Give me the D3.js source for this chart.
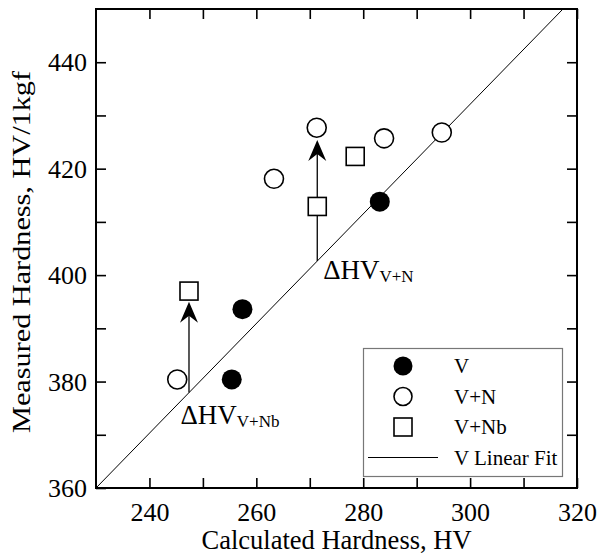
<!DOCTYPE html>
<html><head><meta charset="utf-8">
<script src="https://cdn.jsdelivr.net/npm/d3@7/dist/d3.min.js"></script>
<style>body{margin:0;background:#fff}svg{display:block}text{font-family:"Liberation Serif","Times New Roman",serif;fill:#000}</style>
</head><body><div id="chart"></div>
<script>
// ---- data ----
const xDomain = [230, 320];
const yDomain = [360, 450];
const xTicks = [240, 260, 280, 300, 320];
const yTicks = [360, 380, 400, 420, 440];
const seriesNames = ["V", "V+N", "V+Nb", "V Linear Fit"];
const vX = [255.4, 257.4, 283.1];
const vY = [380.4, 393.6, 413.8];
const vnX = [245.2, 263.3, 271.3, 283.9, 294.7];
const vnY = [380.4, 418.1, 427.7, 425.7, 426.8];
const vnbX = [247.4, 271.4, 278.5];
const vnbY = [397.0, 412.9, 422.3];
const fitSlope = 1.03;
const fitIntercept = 123.1;
const arrowX = [247.4, 271.4];
const arrowTipY = [395.0, 425.4];
const annoMain = ["ΔHV", "ΔHV"];
const annoSub = ["V+Nb", "V+N"];
const annoX = [245.8, 272.5];
const annoY = [372.0, 399.3];

const W = 597, H = 557;
const m = {l: 96, t: 9, r: 577, b: 488};
const svg = d3.select("#chart").append("svg").attr("width", W).attr("height", H);
const x = d3.scaleLinear().domain(xDomain).range([m.l, m.r]);
const y = d3.scaleLinear().domain(yDomain).range([m.b, m.t]);

svg.append("clipPath").attr("id", "clip").append("rect")
  .attr("x", m.l).attr("y", m.t).attr("width", m.r - m.l).attr("height", m.b - m.t);

// fit line
const fit = v => fitSlope * v + fitIntercept;
svg.append("line").attr("clip-path", "url(#clip)")
  .attr("x1", x(xDomain[0])).attr("y1", y(fit(xDomain[0])))
  .attr("x2", x(xDomain[1])).attr("y2", y(fit(xDomain[1])))
  .attr("stroke", "#000").attr("stroke-width", 1);

// arrows
arrowX.forEach((ax, i) => {
  const px = x(ax), y0 = y(fit(ax)), y1 = y(arrowTipY[i]);
  svg.append("line").attr("x1", px).attr("x2", px).attr("y1", y0).attr("y2", y1 + 8)
    .attr("stroke", "#000").attr("stroke-width", 1.3);
  svg.append("path")
    .attr("d", `M${px},${y1} L${px + 9},${y1 + 21} L${px},${y1 + 14} L${px - 9},${y1 + 21} Z`)
    .attr("fill", "#000");
});

// markers
const r = 9.5;
vnX.forEach((vx, i) => svg.append("circle").attr("cx", x(vx)).attr("cy", y(vnY[i])).attr("r", r)
  .attr("fill", "#fff").attr("stroke", "#000").attr("stroke-width", 1.6));
vnbX.forEach((vx, i) => svg.append("rect").attr("x", x(vx) - 9).attr("y", y(vnbY[i]) - 9)
  .attr("width", 18).attr("height", 18)
  .attr("fill", "#fff").attr("stroke", "#000").attr("stroke-width", 1.6));
vX.forEach((vx, i) => svg.append("circle").attr("cx", x(vx)).attr("cy", y(vY[i])).attr("r", r + 0.5)
  .attr("fill", "#000"));

// annotations
annoMain.forEach((t, i) => {
  const tx = svg.append("text").attr("x", x(annoX[i])).attr("y", y(annoY[i]))
    .style("font-size", "27px");
  tx.append("tspan").text(t);
  tx.append("tspan").attr("dy", 3).style("font-size", "17px").text(annoSub[i]);
});

// axes
const g = svg.append("g");
const tl = 10;
const xAxB = d3.axisBottom(x).tickValues(d3.range(240, 321, 10)).tickSize(-tl).tickFormat(d => xTicks.includes(d) ? d : "");
const xAxT = d3.axisTop(x).tickValues(d3.range(240, 321, 10)).tickSize(-tl).tickFormat("");
const yAxL = d3.axisLeft(y).tickValues(d3.range(370, 450, 10).concat([360])).tickSize(-tl).tickFormat(d => yTicks.includes(d) ? d : "");
const yAxR = d3.axisRight(y).tickValues(d3.range(370, 450, 10)).tickSize(-tl).tickFormat("");
function style(sel) {
  sel.select(".domain").remove();
  sel.selectAll(".tick line").attr("stroke", "#000").attr("stroke-width", 1.6);
  sel.selectAll(".tick text").style("font-size", "26px").style("font-family", '"Liberation Serif",serif').attr("fill", "#000");
}
g.append("g").attr("transform", `translate(0,${m.b})`).call(xAxB).call(style)
  .selectAll(".tick text").attr("dy", "0").attr("y", 33);
g.append("g").attr("transform", `translate(0,${m.t})`).call(xAxT).call(style);
g.append("g").attr("transform", `translate(${m.l},0)`).call(yAxL).call(style)
  .selectAll(".tick text").attr("x", -9).attr("dy", "0.33em");
g.append("g").attr("transform", `translate(${m.r},0)`).call(yAxR).call(style);
svg.append("rect").attr("x", m.l).attr("y", m.t).attr("width", m.r - m.l).attr("height", m.b - m.t)
  .attr("fill", "none").attr("stroke", "#000").attr("stroke-width", 2);

// axis titles
svg.append("text").attr("x", (m.l + m.r) / 2).attr("y", 549).attr("text-anchor", "middle")
  .style("font-size", "26.5px").text("Calculated Hardness, HV");
svg.append("text").attr("transform", `translate(30,252) rotate(-90)`).attr("text-anchor", "middle")
  .attr("textLength", 362).attr("lengthAdjust", "spacingAndGlyphs")
  .style("font-size", "26px").text("Measured Hardness, HV/1kgf");

// legend
const lg = svg.append("g");
lg.append("rect").attr("x", 363.5).attr("y", 348.5).attr("width", 199).attr("height", 128)
  .attr("fill", "#fff").attr("stroke", "#777").attr("stroke-width", 1.2);
const rowY = [366, 396.5, 427, 457.5];
const mx = 403;
lg.append("circle").attr("cx", mx).attr("cy", rowY[0]).attr("r", 9.5).attr("fill", "#000");
lg.append("circle").attr("cx", mx).attr("cy", rowY[1]).attr("r", 9).attr("fill", "#fff").attr("stroke", "#000").attr("stroke-width", 1.6);
lg.append("rect").attr("x", mx - 9).attr("y", rowY[2] - 9).attr("width", 18).attr("height", 18).attr("fill", "#fff").attr("stroke", "#000").attr("stroke-width", 1.6);
lg.append("line").attr("x1", 368).attr("x2", 438).attr("y1", rowY[3]).attr("y2", rowY[3]).attr("stroke", "#000").attr("stroke-width", 1);
seriesNames.forEach((s, i) => lg.append("text").attr("x", 454).attr("y", rowY[i]).attr("dy", "0.35em")
  .style("font-size", "21px").text(s));
</script></body></html>
